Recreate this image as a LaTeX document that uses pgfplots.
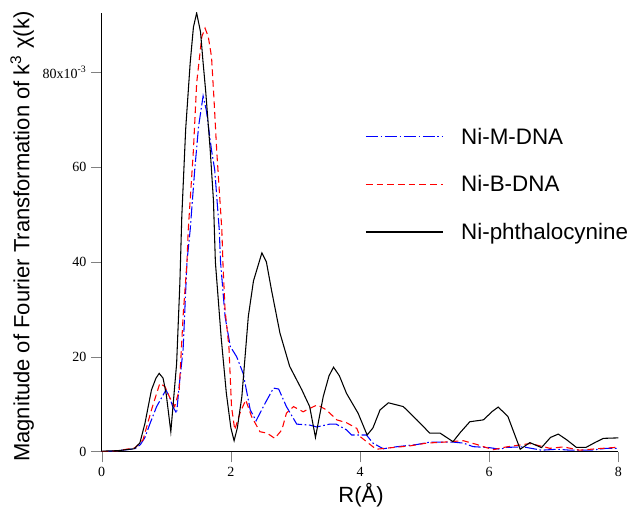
\documentclass[border=0pt]{standalone}
\usepackage{fontspec}
\usepackage{pgfplots}
\pgfplotsset{compat=1.18}
\setmainfont{Liberation Serif}
\newfontfamily\sans{Liberation Sans}
\definecolor{cblue}{RGB}{0,0,255}
\definecolor{cred}{RGB}{255,0,0}

\begin{document}
\begin{tikzpicture}
\begin{axis}[
    scale only axis,
    width=387.5pt, height=329pt,
    xmin=0, xmax=8,
    ymin=0, ymax=92.5,
    axis lines*=left,
    tick align=outside,
    major tick length=8pt,
    xtick={0,2,4,6,8},
    ytick={0,20,40,60,80},
    yticklabels={0,20,40,60,{80x10\textsuperscript{-3}}},
    /pgf/number format/assume math mode=true,
    ticklabel style={font=\fontsize{10.5}{12}\selectfont},
    xlabel={R(Å)},
    ylabel={Magnitude of Fourier Transformation of k\textsuperscript{3} χ(k)},
    every axis x label/.style={at={(axis description cs:0.502,-0.099)}, anchor=center},
    every axis y label/.style={at={(axis description cs:-0.154,0.49)}, rotate=90, anchor=center},
    xlabel style={font=\sans\fontsize{16.5}{18}\selectfont},
    ylabel style={font=\sans\fontsize{16.5}{18}\selectfont},
    legend style={draw=none, fill=none, at={(0.51,0.745)}, anchor=north west,
        font=\sans\fontsize{16.8}{18}\selectfont, row sep=18pt,
        inner sep=0pt,
        /tikz/every odd column/.append style={column sep=11pt}},
    legend cell align=left,
    legend image code/.code={\draw[#1] (0pt,0pt) -- (58pt,0pt);},
    every axis plot/.append style={line width=0.8pt},
]
\addplot[color=cblue, dash pattern=on 9pt off 2pt on 1.2pt off 2pt] coordinates {
(0,0) (0.25,0.2) (0.515,0.6) (0.6,1.5) (0.67,3) (0.75,6) (0.85,9.5) (0.995,13)
(1.05,11.5) (1.1,9.5) (1.16,8.1) (1.2,14) (1.26,21.5) (1.32,40) (1.37,46.8)
(1.44,59.4) (1.5,68.6) (1.57,75) (1.62,72) (1.70,63.6) (1.75,59.4) (1.82,46.8)
(1.84,40) (1.91,28.5) (1.99,22.2) (2.09,20) (2.19,16.5) (2.3,8.8) (2.39,6.5)
(2.53,10.2) (2.66,13.4) (2.74,13.2) (2.86,9.5) (3.02,5.8) (3.22,5.6) (3.33,5.2)
(3.53,5.8) (3.63,5.8) (3.79,4.6) (3.87,3.5) (4.1,3.5) (4.2,1.8) (4.36,0.6)
(4.55,1.0) (4.88,1.5) (5.08,2.0) (5.45,2.0) (5.6,1.8) (5.75,1.05) (6.0,0.85)
(6.17,0.5) (6.27,0.9) (6.53,1.0) (6.81,0.3) (7.05,0.5) (7.26,0.3) (7.57,0.3)
(7.82,0.7) (8.0,0.7)
};
\addlegendentry{Ni-M-DNA}
\addplot[color=cred, dash pattern=on 5pt off 3pt] coordinates {
(0,0) (0.25,0.2) (0.515,0.8) (0.64,2.5) (0.77,8.8) (0.9,14.4) (0.98,13.7)
(1.05,11.5) (1.13,9.5) (1.2,13) (1.26,28.5) (1.32,40) (1.34,46.8) (1.42,63.6)
(1.47,77.7) (1.55,87.5) (1.6,89.3) (1.65,87.5) (1.70,83.3) (1.74,74) (1.78,63.6)
(1.86,46.8) (1.88,38.7) (1.91,29.9) (1.97,22) (2.01,9.5) (2.06,4.6) (2.14,8.1)
(2.23,10.9) (2.32,7.4) (2.45,4.2) (2.56,3.9) (2.68,2.8) (2.79,4.6) (2.86,8.1)
(2.97,9.5) (3.12,8.4) (3.2,9) (3.34,9.85) (3.48,8.8) (3.64,6.7) (3.79,6.1)
(3.95,4.9) (4.0,3.2) (4.1,2.1) (4.25,0.5) (4.46,0.8) (4.77,1.2) (5.03,1.8)
(5.29,2.0) (5.6,2.3) (5.81,1.5) (6.06,0.4) (6.27,1.0) (6.63,1.7) (6.73,1.4)
(6.94,0.7) (7.15,1.0) (7.4,0.3) (7.66,0.6) (7.97,0.9)
};
\addlegendentry{Ni-B-DNA}
\addplot[color=black] coordinates {
(0,0.1) (0.25,0.2) (0.5,0.6) (0.59,1.8) (0.67,6) (0.77,13) (0.84,15.5)
(0.89,16.5) (0.95,15.5) (1.0,12) (1.07,4.2) (1.16,18.6) (1.21,35.5) (1.24,49.6)
(1.3,68) (1.37,82) (1.42,89.5) (1.47,92.5) (1.53,88.5) (1.57,82) (1.61,76)
(1.68,63.6) (1.73,53) (1.76,40)
(1.85,24) (1.93,12.3) (2.0,5) (2.05,2.3) (2.1,5) (2.17,11.6) (2.27,28.5)
(2.35,36) (2.48,41.9) (2.55,40) (2.63,34) (2.76,25) (2.91,18) (3.1,13)
(3.22,9.5) (3.31,3) (3.43,11.6) (3.52,16) (3.59,17.8) (3.68,16) (3.79,12.3)
(3.97,8.1) (4.11,3.5) (4.2,5) (4.31,8.8) (4.44,10.3) (4.67,9.5) (4.88,6.7)
(5.08,3.9) (5.24,3.9) (5.44,2.1) (5.55,4) (5.70,6.3) (5.91,6.7) (6.05,8.5)
(6.14,9.4) (6.29,7.4) (6.48,0.5) (6.63,1.9) (6.81,0.85) (6.95,3) (7.07,3.7)
(7.2,2.5) (7.35,0.9) (7.5,0.9) (7.65,2) (7.77,2.8) (8.0,2.9)
};
\addlegendentry{Ni-phthalocynine}
\end{axis}
\pgfresetboundingbox
\path[use as bounding box] (current axis.south west) ++(-76.3pt,-43pt)
    rectangle ([shift={(6.5pt,9.75pt)}]current axis.north east);
\end{tikzpicture}
\end{document}
